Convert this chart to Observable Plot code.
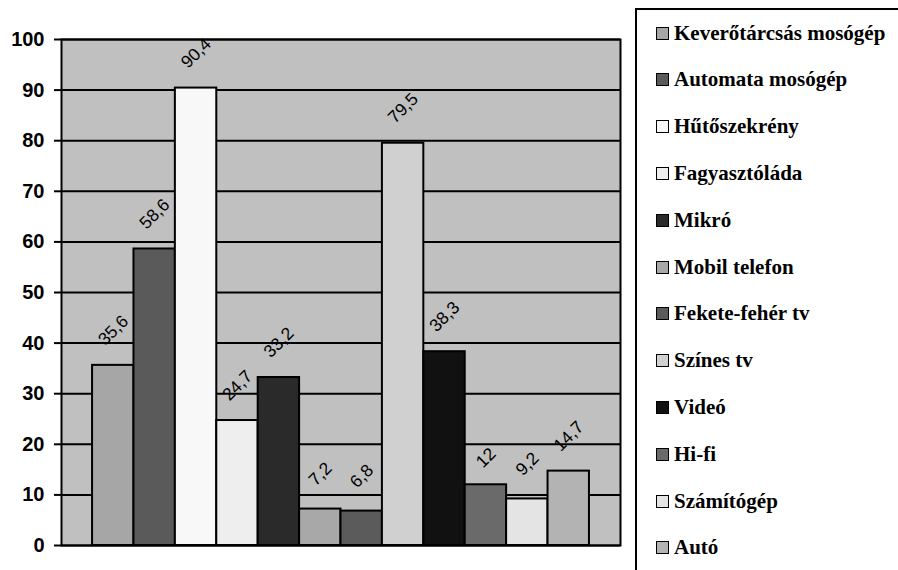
<!DOCTYPE html>
<html><head><meta charset="utf-8">
<script src="https://cdn.jsdelivr.net/npm/d3@7"></script>
<script src="https://cdn.jsdelivr.net/npm/@observablehq/plot@0.6"></script>
<style>
html,body{margin:0;padding:0;background:#fff;}
#wrap{position:relative;width:898px;height:570px;overflow:hidden;}
#legend{position:absolute;left:635px;top:8px;width:300px;height:600px;border:2px solid #000;box-sizing:border-box;background:#fff;}
.item{position:absolute;left:19px;display:flex;align-items:center;height:30px;font-family:"Liberation Serif","Times New Roman",serif;font-weight:bold;font-size:21px;color:#000;white-space:nowrap;}
.sw{width:11px;height:11px;border:1.5px solid #000;margin-right:5px;flex:none;}
</style></head><body><div id="wrap"></div>
<script>
const categories = ["Keverőtárcsás mosógép","Automata mosógép","Hűtőszekrény","Fagyasztóláda","Mikró","Mobil telefon","Fekete-fehér tv","Színes tv","Videó","Hi-fi","Számítógép","Autó"];
const values = [35.6, 58.6, 90.4, 24.7, 33.2, 7.2, 6.8, 79.5, 38.3, 12, 9.2, 14.7];
const colors = ["#a6a6a6","#5a5a5a","#f8f8f8","#eeeeee","#2a2a2a","#a8a8a8","#5b5b5b","#d0d0d0","#111111","#6a6a6a","#e4e4e4","#b3b3b3"];
const yTicks = [0,10,20,30,40,50,60,70,80,90,100];

const data = categories.map((c,i)=>({name:c, value:values[i], color:colors[i], label:String(values[i]).replace(".", ",")}));
const longLabels = data.filter(d=>d.label.length>2);
const shortLabels = data.filter(d=>d.label.length<=2);
const labelStyle = {x:"name", y:"value", text:"label", rotate:-45, fontSize:17.5, fontFamily:"Liberation Sans, Arial, sans-serif", textAnchor:"middle", lineAnchor:"middle", fill:"#000"};

const plot = Plot.plot({
  width: 898, height: 570,
  marginLeft: 61, marginRight: 278, marginTop: 39, marginBottom: 25,
  style: {background: "transparent", overflow: "visible"},
  x: {type:"band", domain: categories, paddingInner: 0, paddingOuter: 0.75, round: false, axis: null},
  y: {domain:[0,100], axis: null},
  marks: [
    Plot.frame({fill:"#c0c0c0", stroke:null}),
    Plot.ruleY(yTicks, {stroke:"#000", strokeWidth:2}),
    Plot.barY(data, {x:"name", y:"value", fill:"color", stroke:"#000", strokeWidth:2}),
    Plot.frame({stroke:"#000", strokeWidth:2, fill:"none"}),
    Plot.axisY({ticks:yTicks, tickSize:7, tickPadding:10, fontSize:20, fontWeight:"bold", fontFamily:"Liberation Sans, Arial, sans-serif", strokeWidth:2, stroke:"#000", fill:"#000", tickFormat:d=>String(d), label:null}),
    Plot.text(longLabels, {...labelStyle, dy:-35}),
    Plot.text(shortLabels, {...labelStyle, dy:-27})
  ]
});
const wrap = document.getElementById("wrap");
wrap.appendChild(plot);

const legend = document.createElement("div");
legend.id = "legend";
categories.forEach((c,i)=>{
  const it = document.createElement("div");
  it.className = "item";
  it.style.top = (23 + 46.8*i - 15) + "px";
  const sw = document.createElement("div");
  sw.className = "sw";
  sw.style.background = colors[i];
  const t = document.createElement("span");
  t.textContent = c;
  it.appendChild(sw); it.appendChild(t);
  legend.appendChild(it);
});
wrap.appendChild(legend);
</script></body></html>
